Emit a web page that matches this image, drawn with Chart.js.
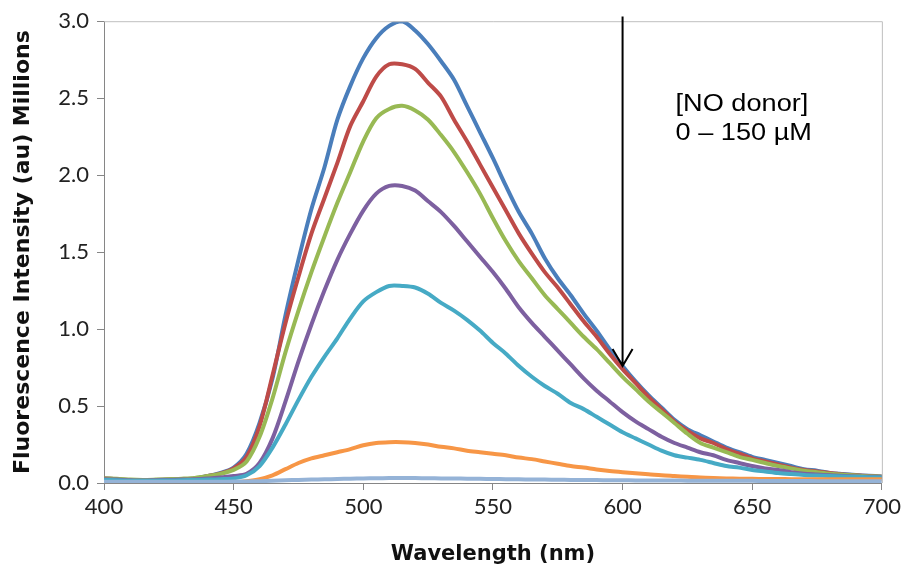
<!DOCTYPE html>
<html>
<head>
<meta charset="utf-8">
<script src="https://cdn.jsdelivr.net/npm/chart.js@4.4.1/dist/chart.umd.min.js"></script>
<style>
  html, body { margin: 0; padding: 0; background: #fff; }
  #wrap { width: 905px; height: 567px; }
</style>
</head>
<body>
<div id="wrap"><canvas id="spectraChart" width="905" height="567"></canvas></div>
<script>
// wavelengths, nm (5 nm steps)
const wavelengths = [
  400, 405, 410, 415, 420, 425, 430, 435, 440, 445,
  450, 455, 460, 465, 470, 475, 480, 485, 490, 495,
  500, 505, 510, 515, 520, 525, 530, 535, 540, 545,
  550, 555, 560, 565, 570, 575, 580, 585, 590, 595,
  600, 605, 610, 615, 620, 625, 630, 635, 640, 645,
  650, 655, 660, 665, 670, 675, 680, 685, 690, 695, 700
];

// intensities in millions, one array per NO donor concentration
const series0 = [
  0.030, 0.025, 0.020, 0.018, 0.020, 0.022, 0.025, 0.030, 0.045, 0.065,
  0.100, 0.190, 0.390, 0.680, 1.090, 1.450, 1.780, 2.050, 2.360, 2.580,
  2.760, 2.890, 2.970, 3.000, 2.940, 2.850, 2.740, 2.620, 2.450, 2.280,
  2.110, 1.930, 1.760, 1.620, 1.460, 1.330, 1.220, 1.100, 0.990, 0.870,
  0.760, 0.660, 0.570, 0.490, 0.410, 0.350, 0.310, 0.270, 0.230, 0.200,
  0.170, 0.150, 0.130, 0.110, 0.090, 0.080, 0.065, 0.058, 0.052, 0.047, 0.043
];
const series1 = [
  0.030, 0.025, 0.020, 0.018, 0.020, 0.022, 0.025, 0.030, 0.045, 0.062,
  0.095, 0.170, 0.370, 0.700, 1.040, 1.340, 1.620, 1.850, 2.080, 2.320,
  2.480, 2.640, 2.720, 2.720, 2.690, 2.600, 2.510, 2.360, 2.220, 2.070,
  1.920, 1.770, 1.620, 1.490, 1.370, 1.270, 1.160, 1.050, 0.950, 0.840,
  0.740, 0.650, 0.560, 0.480, 0.400, 0.340, 0.290, 0.260, 0.220, 0.190,
  0.160, 0.140, 0.120, 0.100, 0.085, 0.075, 0.065, 0.055, 0.050, 0.045, 0.040
];
const series2 = [
  0.030, 0.028, 0.022, 0.020, 0.022, 0.025, 0.028, 0.033, 0.045, 0.060,
  0.085, 0.140, 0.300, 0.550, 0.850, 1.120, 1.370, 1.600, 1.820, 2.020,
  2.220, 2.370, 2.430, 2.450, 2.420, 2.360, 2.260, 2.150, 2.020, 1.880,
  1.720, 1.570, 1.440, 1.330, 1.220, 1.130, 1.040, 0.950, 0.870, 0.780,
  0.690, 0.610, 0.530, 0.460, 0.390, 0.320, 0.260, 0.230, 0.200, 0.170,
  0.150, 0.130, 0.110, 0.095, 0.080, 0.070, 0.060, 0.053, 0.048, 0.044, 0.040
];
const series3 = [
  0.025, 0.022, 0.018, 0.016, 0.018, 0.020, 0.022, 0.025, 0.030, 0.035,
  0.045, 0.060, 0.130, 0.290, 0.530, 0.790, 1.030, 1.250, 1.450, 1.620,
  1.770, 1.880, 1.930, 1.930, 1.900, 1.830, 1.760, 1.670, 1.570, 1.470,
  1.370, 1.260, 1.140, 1.040, 0.950, 0.860, 0.770, 0.680, 0.600, 0.530,
  0.460, 0.400, 0.350, 0.300, 0.260, 0.230, 0.200, 0.180, 0.150, 0.130,
  0.110, 0.095, 0.085, 0.070, 0.060, 0.055, 0.050, 0.045, 0.042, 0.040, 0.038
];
const series4 = [
  0.020, 0.018, 0.015, 0.014, 0.015, 0.016, 0.018, 0.020, 0.022, 0.025,
  0.030, 0.050, 0.110, 0.230, 0.380, 0.540, 0.690, 0.820, 0.940, 1.070,
  1.180, 1.240, 1.280, 1.280, 1.270, 1.230, 1.170, 1.120, 1.060, 0.990,
  0.910, 0.840, 0.760, 0.690, 0.630, 0.580, 0.520, 0.480, 0.430, 0.380,
  0.330, 0.290, 0.250, 0.210, 0.180, 0.165, 0.150, 0.130, 0.110, 0.100,
  0.085, 0.075, 0.065, 0.058, 0.052, 0.048, 0.045, 0.042, 0.040, 0.038, 0.035
];
const series5 = [
  0.005, 0.005, 0.005, 0.005, 0.005, 0.005, 0.005, 0.005, 0.005, 0.005,
  0.005, 0.012, 0.025, 0.050, 0.090, 0.130, 0.160, 0.180, 0.200, 0.220,
  0.245, 0.260, 0.265, 0.265, 0.260, 0.250, 0.235, 0.225, 0.210, 0.200,
  0.190, 0.180, 0.165, 0.155, 0.140, 0.125, 0.110, 0.100, 0.088, 0.078,
  0.070, 0.063, 0.057, 0.050, 0.045, 0.040, 0.035, 0.032, 0.030, 0.028,
  0.027, 0.026, 0.026, 0.025, 0.025, 0.025, 0.025, 0.025, 0.025, 0.025, 0.025
];
const series6 = [
  0.008, 0.008, 0.008, 0.008, 0.008, 0.008, 0.008, 0.008, 0.008, 0.008,
  0.009, 0.010, 0.012, 0.015, 0.018, 0.020, 0.022, 0.024, 0.026, 0.028,
  0.030, 0.031, 0.032, 0.032, 0.032, 0.031, 0.030, 0.029, 0.028, 0.027,
  0.026, 0.025, 0.024, 0.023, 0.022, 0.021, 0.020, 0.019, 0.019, 0.018,
  0.018, 0.017, 0.017, 0.016, 0.016, 0.015, 0.015, 0.015, 0.014, 0.014,
  0.014, 0.013, 0.013, 0.013, 0.013, 0.012, 0.012, 0.012, 0.012, 0.012, 0.012
];

const allSeries = [series0, series1, series2, series3, series4, series5, series6];
const seriesColors = ['#4a7ebb', '#be4b48', '#98b954', '#7d60a0', '#46aac5', '#f79646', '#95b3d7'];

const yTicks = [0, 0.5, 1.0, 1.5, 2.0, 2.5, 3.0];
const xTicks = [400, 450, 500, 550, 600, 650, 700];

// arrow: at 600 nm, from above the top of the plot down to the blue curve
const arrowX = 600;
const arrowFrom = 3.03;
const arrowTo = 0.76;
const noteLines = ['[NO donor]', '0 \u2013 150 \u00b5M'];

// frame + arrow + note, drawn on top of the chart
const extrasPlugin = {
  id: 'extras',
  afterDraw(chart) {
    const { ctx, chartArea, scales } = chart;
    ctx.save();

    // light top / right frame
    ctx.strokeStyle = '#bfbfbf';
    ctx.lineWidth = 1;
    ctx.beginPath();
    ctx.moveTo(chartArea.left, chartArea.top + 0.5);
    ctx.lineTo(chartArea.right + 0.5, chartArea.top + 0.5);
    ctx.lineTo(chartArea.right + 0.5, chartArea.bottom);
    ctx.stroke();

    // arrow
    const ax = scales.x.getPixelForValue(arrowX);
    const y0 = scales.y.getPixelForValue(arrowFrom);
    const y1 = scales.y.getPixelForValue(arrowTo);
    ctx.strokeStyle = '#000';
    ctx.lineWidth = 2;
    ctx.beginPath();
    ctx.moveTo(ax, y0);
    ctx.lineTo(ax, y1);
    ctx.moveTo(ax - 10, y1 - 17);
    ctx.lineTo(ax, y1);
    ctx.lineTo(ax + 10, y1 - 17);
    ctx.stroke();

    // note text
    ctx.fillStyle = '#000';
    ctx.font = '23px "Liberation Sans", Arial, sans-serif';
    ctx.textBaseline = 'middle';
    const tx = ax + 53;
    noteLines.forEach((line, i) => {
      ctx.save();
      ctx.translate(tx, chartArea.top + 83 + i * 29);
      ctx.scale(1.18, 1);
      ctx.fillText(line, 0, 0);
      ctx.restore();
    });

    ctx.restore();
  },
};

const ctx = document.getElementById('spectraChart');

new Chart(ctx, {
  type: 'line',
  data: {
    datasets: allSeries.map((values, index) => ({
      data: values.map((v, i) => ({ x: wavelengths[i], y: v })),
      borderColor: seriesColors[index],
      borderWidth: 4,
      pointRadius: 0,
      tension: 0.3,
      fill: false,
    })).reverse(),
  },
  options: {
    responsive: false,
    animation: false,
    layout: { padding: { left: 0, right: 23, top: 20, bottom: 0 } },
    plugins: {
      legend: { display: false },
      tooltip: { enabled: false },
    },
    scales: {
      x: {
        type: 'linear',
        min: 400,
        max: 700,
        afterBuildTicks: (scale) => {
          scale.ticks = xTicks.map((v) => ({ value: v }));
        },
        afterFit: (scale) => {
          scale.height = 84;
        },
        grid: {
          display: true,
          drawOnChartArea: false,
          drawTicks: true,
          tickLength: 7,
          color: '#868686',
        },
        border: { display: true, color: '#868686', width: 1 },
        ticks: {
          color: '#222',
          font: { family: 'Lato', size: 22 },
          padding: 4,
        },
        title: {
          display: true,
          text: 'Wavelength (nm)',
          color: '#111',
          font: { family: '"DejaVu Sans"', size: 21, weight: 'bold' },
          padding: { top: 0, bottom: 0 },
        },
      },
      y: {
        type: 'linear',
        min: 0,
        max: 3,
        afterBuildTicks: (scale) => {
          scale.ticks = yTicks.map((v) => ({ value: v }));
        },
        afterFit: (scale) => {
          scale.width = 104;
        },
        grid: {
          display: true,
          drawOnChartArea: false,
          drawTicks: true,
          tickLength: 7,
          color: '#868686',
        },
        border: { display: true, color: '#868686', width: 1 },
        ticks: {
          color: '#222',
          font: { family: 'Lato', size: 22 },
          padding: 8,
          callback: (v) => Number(v).toFixed(1),
        },
        title: {
          display: true,
          text: 'Fluorescence Intensity (au) Millions',
          color: '#111',
          font: { family: '"DejaVu Sans"', size: 22, weight: 'bold' },
          padding: { top: 10, bottom: 0 },
        },
      },
    },
  },
  plugins: [extrasPlugin],
});
</script>
</body>
</html>
